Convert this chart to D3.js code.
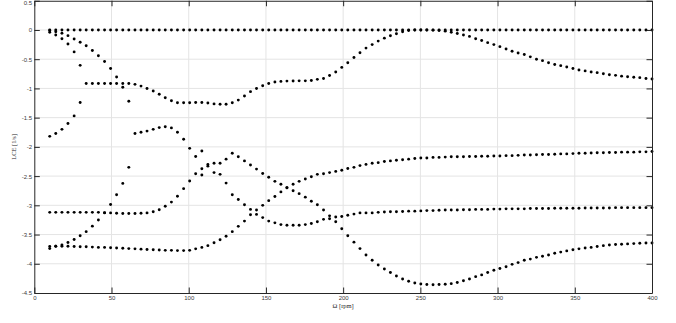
<!DOCTYPE html>
<html><head><meta charset="utf-8">
<script src="https://cdn.jsdelivr.net/npm/d3@7"></script>
<style>body{margin:0;background:#fff}svg{display:block}</style>
</head><body>
<svg id="c" width="676" height="323"></svg>
<script>
// rotor speed samples (rpm)
const rpm = [10.0,13.9,17.9,21.8,25.8,29.7,33.6,37.6,41.5,45.5,49.4,53.3,57.3,61.2,65.2,69.1,73.0,77.0,80.9,84.8,
88.8,92.7,96.7,100.6,104.5,108.5,112.4,116.4,120.3,124.2,128.2,132.1,136.1,140.0,143.9,147.9,151.8,155.8,159.7,163.6,
167.6,171.5,175.5,179.4,183.3,187.3,191.2,195.2,199.1,203.0,207.0,210.9,214.8,218.8,222.7,226.7,230.6,234.5,238.5,242.4,
246.4,250.3,254.2,258.2,262.1,266.1,270.0,273.9,277.9,281.8,285.8,289.7,293.6,297.6,301.5,305.5,309.4,313.3,317.3,321.2,
325.2,329.1,333.0,337.0,340.9,344.8,348.8,352.7,356.7,360.6,364.5,368.5,372.4,376.4,380.3,384.2,388.2,392.1,396.1,400.0];

// LCE branches (null = coincides with another branch)
const lceZero = [0,0,0,0,0,0,0,0,0,0, 0,0,0,0,0,0,0,0,0,0, 0,0,0,0,0,0,0,0,0,0, 0,0,0,0,0,0,0,0,0,0,
0,0,0,0,0,0,0,0,0,0, 0,0,0,0,0,0,0,0,0,0, 0,0,0,0,0,0,0,0,0,0, 0,0,0,0,0,0,0,0,0,0,
0,0,0,0,0,0,0,0,0,0, 0,0,0,0,0,0,0,0,0,0];

const lceB = [-0.04,-0.085,-0.15,-0.24,-0.375,-0.605,-0.915,-0.915,-0.915,-0.915,
-0.915,-0.915,-0.915,-0.915,-0.93,-0.96,-1.0,-1.045,-1.10,-1.16,
-1.21,-1.245,-1.245,-1.245,-1.24,-1.24,-1.25,-1.265,-1.27,-1.27,
-1.245,-1.20,-1.13,-1.055,-1.0,-0.955,-0.915,-0.89,-0.88,-0.875,
-0.873,-0.87,-0.87,-0.865,-0.845,-0.83,-0.78,-0.72,-0.64,-0.56,
-0.47,-0.39,-0.31,-0.25,-0.19,-0.14,-0.10,-0.065,-0.03,-0.01,
0,0,0,-0.003,-0.01,-0.02,-0.04,-0.06,-0.085,-0.11,
-0.15,-0.18,-0.217,-0.25,-0.285,-0.325,-0.365,-0.394,-0.42,-0.46,
-0.50,-0.525,-0.56,-0.59,-0.61,-0.634,-0.66,-0.685,-0.70,-0.72,
-0.73,-0.75,-0.765,-0.776,-0.79,-0.80,-0.81,-0.816,-0.83,-0.84];

const lceC = [-1.82,-1.77,-1.70,-1.60,-1.47,-1.24,null,null,null,null,
null,null,null,null,null,null,null,null,null,null, null,null,null,null,null,null,null,null,null,null,
null,null,null,null,null,null,null,null,null,null, null,null,null,null,null,null,null,null,null,null,
null,null,null,null,null,null,null,null,null,null, null,null,null,null,null,null,null,null,null,null,
null,null,null,null,null,null,null,null,null,null, null,null,null,null,null,null,null,null,null,null];

const lceA = [-0.01,-0.03,-0.057,-0.097,-0.154,-0.21,-0.27,-0.35,-0.44,-0.54,
-0.66,-0.805,-0.98,-1.22,-1.77,-1.75,-1.73,-1.70,-1.67,-1.656,
-1.675,-1.75,-1.87,-2.025,-2.165,-2.07,-2.30,-2.28,-2.28,-2.21,
-2.11,-2.17,-2.24,-2.31,-2.38,-2.455,-2.52,-2.59,-2.64,-2.70,
-2.75,-2.80,-2.86,-2.93,-2.99,-3.08,-3.18,-3.28,-3.40,-3.52,
-3.63,-3.74,-3.85,-3.94,-4.02,-4.09,-4.15,-4.21,-4.26,-4.30,
-4.33,-4.345,-4.355,-4.36,-4.355,-4.35,-4.34,-4.32,-4.29,-4.26,
-4.22,-4.19,-4.15,-4.11,-4.08,-4.05,-4.01,-3.98,-3.94,-3.92,
-3.89,-3.87,-3.85,-3.82,-3.80,-3.78,-3.76,-3.745,-3.73,-3.72,
-3.705,-3.69,-3.68,-3.67,-3.665,-3.66,-3.655,-3.65,-3.645,-3.645];

const lceD = [-3.74,-3.70,-3.68,-3.635,-3.585,-3.52,-3.45,-3.356,-3.25,-3.13,
-2.985,-2.82,-2.625,-2.35,null,null,null,null,null,null,
null,null,null,null,null,-2.48,-2.33,-2.44,-2.47,-2.62,
-2.82,-2.90,-2.99,-3.07,-3.155,-3.21,-3.27,-3.30,-3.33,-3.34,
-3.34,-3.34,-3.33,-3.31,-3.28,-3.24,-3.23,-3.20,-3.19,-3.17,
-3.15,-3.13,-3.13,-3.13,-3.12,-3.115,-3.11,-3.11,-3.105,-3.10,
-3.10,-3.095,-3.09,-3.09,-3.085,-3.08,-3.08,-3.08,-3.075,-3.075,
-3.07,-3.07,-3.07,-3.065,-3.065,-3.06,-3.06,-3.06,-3.06,-3.055,
-3.055,-3.055,-3.055,-3.05,-3.05,-3.05,-3.05,-3.05,-3.045,-3.045,
-3.045,-3.045,-3.045,-3.04,-3.04,-3.04,-3.04,-3.04,-3.04,-3.04];

const lceE = [-3.12,-3.12,-3.12,-3.12,-3.12,-3.12,-3.12,-3.12,-3.12,-3.125,
-3.13,-3.135,-3.14,-3.14,-3.14,-3.135,-3.13,-3.11,-3.075,-3.015,
-2.945,-2.845,-2.715,-2.585,-2.46,-2.375,null,null,null,null,
null,null,null,null,null,null,null,null,null,null, null,null,null,null,null,null,null,null,null,null,
null,null,null,null,null,null,null,null,null,null, null,null,null,null,null,null,null,null,null,null,
null,null,null,null,null,null,null,null,null,null, null,null,null,null,null,null,null,null,null,null,
null,null,null,null,null,null,null,null,null,null];

const lceF = [-3.705,-3.70,-3.70,-3.70,-3.705,-3.71,-3.71,-3.715,-3.72,-3.72,
-3.725,-3.73,-3.735,-3.74,-3.745,-3.75,-3.755,-3.76,-3.765,-3.77,
-3.77,-3.775,-3.775,-3.77,-3.745,-3.72,-3.69,-3.64,-3.59,-3.53,
-3.45,-3.36,-3.27,-3.16,-3.08,-3.0,-2.92,-2.85,-2.77,-2.70,
-2.64,-2.59,-2.55,-2.51,-2.47,-2.46,-2.44,-2.42,-2.40,-2.37,
-2.35,-2.32,-2.30,-2.28,-2.27,-2.25,-2.24,-2.23,-2.22,-2.21,
-2.20,-2.19,-2.19,-2.18,-2.18,-2.175,-2.17,-2.17,-2.17,-2.165,
-2.165,-2.16,-2.16,-2.155,-2.155,-2.15,-2.15,-2.145,-2.14,-2.14,
-2.135,-2.13,-2.13,-2.125,-2.12,-2.12,-2.115,-2.11,-2.11,-2.105,
-2.10,-2.10,-2.095,-2.095,-2.09,-2.09,-2.09,-2.085,-2.085,-2.08];

const xTicks = [0,50,100,150,200,250,300,350,400];
const xTickLabels = ["0","50","100","150","200","250","300","350","400"];
const yTicks = [0.5,0,-0.5,-1,-1.5,-2,-2.5,-3,-3.5,-4,-4.5];
const yTickLabels = ["0.5","0","-0.5","-1","-1.5","-2","-2.5","-3","-3.5","-4","-4.5"];
const xLabel = "\u03A9 [rpm]";
const yLabel = "LCE [1/s]";

const branches = [lceZero, lceB, lceC, lceA, lceD, lceE, lceF];

const L = 34.3, R = 652, T = 0.75, B = 293;
const svg = d3.select("#c");
svg.append("rect").attr("width",676).attr("height",323).attr("fill","#fff");

const x = d3.scaleLinear().domain([0,400]).range([L,R]);
const y = d3.scaleLinear().domain([-4.5,0.5]).range([B,T]);

// grid
const grid = svg.append("g").attr("stroke","#e4e4e4").attr("stroke-width",1);
grid.selectAll("line.v").data(xTicks.slice(1,-1)).join("line")
  .attr("x1",d=>x(d)).attr("x2",d=>x(d)).attr("y1",T).attr("y2",B);
grid.selectAll("line.h").data(yTicks.slice(1,-1)).join("line")
  .attr("x1",L).attr("x2",R).attr("y1",d=>y(d)).attr("y2",d=>y(d));

// points
const pts = [];
branches.forEach(arr => arr.forEach((v,i) => { if (v !== null) pts.push([rpm[i], v]); }));
svg.append("g").selectAll("circle").data(pts).join("circle")
  .attr("cx",d=>x(d[0])).attr("cy",d=>y(d[1])).attr("r",1.45).attr("fill","#000");

// axes
const tk = 5.5;
const font = "Liberation Sans, Arial, sans-serif";
function style(g){
  g.select(".domain").attr("stroke","#262626").attr("stroke-width",1);
  g.selectAll(".tick line").attr("stroke","#262626").attr("stroke-width",1);
  g.selectAll(".tick text").attr("fill","#3a3a3a").attr("font-family",font).attr("font-size","6px");
}
svg.append("g").attr("transform",`translate(0,${B})`)
  .call(d3.axisBottom(x).tickValues(xTicks).tickSizeInner(-tk).tickSizeOuter(0).tickPadding(3.2)
        .tickFormat((d,i)=>xTickLabels[i])).call(style);
const yAxisG = svg.append("g").attr("transform",`translate(${L},0)`)
  .call(d3.axisLeft(y).tickValues(yTicks).tickSizeInner(-tk).tickSizeOuter(0).tickPadding(2.2)
        .tickFormat((d,i)=>yTickLabels[i])).call(style);
// keep the top label inside the picture
yAxisG.selectAll(".tick").filter(d => d === yTicks[0]).select("text").attr("dy","0.62em");
svg.append("g").attr("transform",`translate(0,${T})`)
  .call(d3.axisTop(x).tickValues(xTicks).tickSizeInner(-tk).tickSizeOuter(0).tickFormat(()=>"")).call(style);
svg.append("g").attr("transform",`translate(${R},0)`)
  .call(d3.axisRight(y).tickValues(yTicks).tickSizeInner(-tk).tickSizeOuter(0).tickFormat(()=>"")).call(style);

// labels
svg.append("text").attr("x",(L+R)/2).attr("y",308).attr("text-anchor","middle")
  .attr("font-family","Liberation Serif, Times New Roman, serif").attr("font-size","6.5px").attr("fill","#262626")
  .text(xLabel);
svg.append("text").attr("transform",`translate(16,${(T+B)/2}) rotate(-90)`).attr("text-anchor","middle")
  .attr("font-family","Liberation Serif, Times New Roman, serif").attr("font-size","6.5px").attr("fill","#262626")
  .text(yLabel);
</script>
</body></html>
